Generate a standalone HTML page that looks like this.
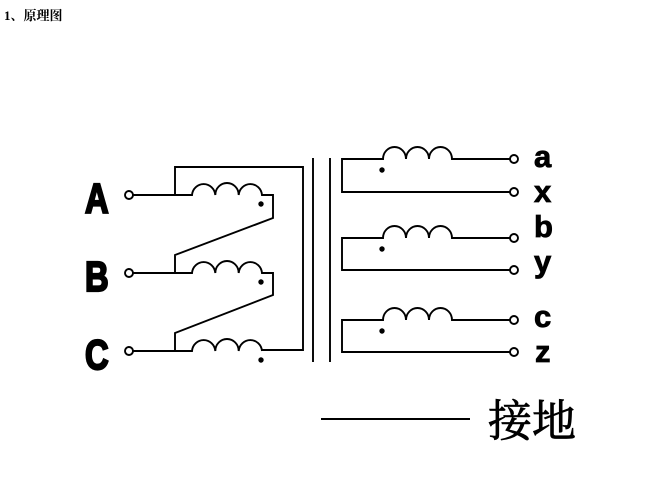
<!DOCTYPE html>
<html><head><meta charset="utf-8"><style>
body{margin:0;background:#fff;width:670px;height:480px;overflow:hidden}
</style></head><body>
<svg width="670" height="480" xmlns="http://www.w3.org/2000/svg">
<text x="4" y="20" font-family="'Liberation Serif','Noto Serif CJK SC',serif" font-weight="bold" font-size="13">1、原理图</text>
<g fill="none" stroke="#000" stroke-width="1.9">
<circle cx="129" cy="195" r="4" fill="#fff"/>
<circle cx="129" cy="273" r="4" fill="#fff"/>
<circle cx="129" cy="351" r="4" fill="#fff"/>
<path d="M133 195H192 A11.7 12 0 0 1 215.3 195 A11.7 12 0 0 1 238.7 195 A11.7 12 0 0 1 262 195 H273 V218 L175 255 V273"/>
<path d="M175 195V167H303V350H262"/>
<path d="M133 273H192 A11.7 12 0 0 1 215.3 273 A11.7 12 0 0 1 238.7 273 A11.7 12 0 0 1 262 273 H273 V295 L175 333 V351"/>
<path d="M133 351H192 A11.7 12 0 0 1 215.3 351 A11.7 12 0 0 1 238.7 351 A11.7 12 0 0 1 262 351"/>
<path d="M313 158V362M330 158V362"/>
<path d="M510 159H452 A11.5 12 0 0 0 429 159 A11.5 12 0 0 0 406 159 A11.5 12 0 0 0 383 159 H342 V192 H510"/>
<path d="M510 238H452 A11.5 12 0 0 0 429 238 A11.5 12 0 0 0 406 238 A11.5 12 0 0 0 383 238 H342 V270 H510"/>
<path d="M510 320H452 A11.5 12 0 0 0 429 320 A11.5 12 0 0 0 406 320 A11.5 12 0 0 0 383 320 H342 V352 H510"/>
<circle cx="514" cy="159" r="4" fill="#fff"/>
<circle cx="514" cy="192" r="4" fill="#fff"/>
<circle cx="514" cy="238" r="4" fill="#fff"/>
<circle cx="514" cy="270" r="4" fill="#fff"/>
<circle cx="514" cy="320" r="4" fill="#fff"/>
<circle cx="514" cy="352" r="4" fill="#fff"/>
<path d="M321 419H470"/>
</g>
<g fill="#000">
<circle cx="261" cy="204" r="2.7"/><circle cx="261" cy="282" r="2.7"/><circle cx="261" cy="360" r="2.7"/>
<circle cx="382" cy="170" r="2.7"/><circle cx="382" cy="249" r="2.7"/><circle cx="382" cy="331" r="2.7"/>
</g>
<g font-family="'Liberation Sans',sans-serif" font-weight="bold" font-size="42" stroke="#000" stroke-width="2.2">
<text x="0" y="213" transform="translate(85 0) scale(0.78 1)">A</text>
<text x="0" y="291" transform="translate(85 0) scale(0.78 1)">B</text>
<text x="0" y="369" transform="translate(85 0) scale(0.78 1)">C</text>
</g>
<g font-family="'Liberation Sans',sans-serif" font-weight="bold" font-size="31" stroke="#000" stroke-width="0.8">
<text x="534" y="167">a</text>
<text x="534" y="202">x</text>
<text x="534" y="237">b</text>
<text x="534" y="272">y</text>
<text x="534" y="327">c</text>
<text x="535" y="362">z</text>
</g>
<text x="488" y="436" font-family="'Liberation Serif','Noto Serif CJK SC',serif" font-size="44" stroke="#000" stroke-width="0.8">接地</text>
</svg>
</body></html>
